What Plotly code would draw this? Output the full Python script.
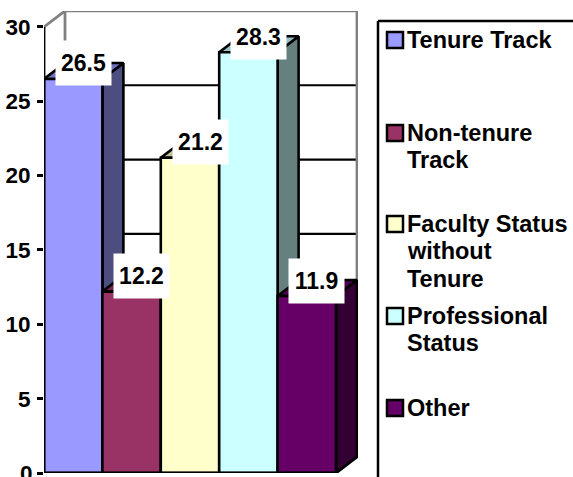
import plotly.graph_objects as go

categories = ["Tenure Track", "Non-tenure Track", "Faculty Status without Tenure", "Professional Status", "Other"]
values = [26.5, 12.2, 21.2, 28.3, 11.9]
value_labels = ["26.5", "12.2", "21.2", "28.3", "11.9"]
front_colors = ["#9999FF", "#993366", "#FFFFCC", "#CCFFFF", "#660066"]
side_colors = ["#4D4D80", "#4D1A33", "#808066", "#668080", "#330033"]
top_colors = ["#7373BF", "#732650", "#BFBF99", "#99BFBF", "#4D004D"]
legend_lines = [["Tenure Track"], ["Non-tenure", "Track"], ["Faculty Status", "without", "Tenure"],
                ["Professional", "Status"], ["Other"]]
legend_first_line_px = [40, 133, 224, 316, 408]
y_ticks = [0, 5, 10, 15, 20, 25, 30]

W, H = 573, 477
X0, Y0 = 44, 473          # pixel position of the front axis origin
CAT_PX, UNIT_PX = 58.4, 14.87
DX, DY = 21 / CAT_PX, 16 / UNIT_PX   # depth of the 3-D box in axis units
XMAX = 314 / CAT_PX
YMAX = 462 / UNIT_PX
FONT = "Liberation Sans, Arial, sans-serif"
LW = 2.6

fig = go.Figure()

def line(xs, ys, color, width, axes=("x", "y")):
    fig.add_trace(go.Scatter(x=xs, y=ys, mode="lines", line=dict(color=color, width=width),
                             xaxis=axes[0], yaxis=axes[1], showlegend=False,
                             hoverinfo="skip", cliponaxis=False))

def face(xs, ys, color):
    fig.add_trace(go.Scatter(x=xs, y=ys, mode="lines", fill="toself", fillcolor=color,
                             line=dict(color="black", width=LW), showlegend=False,
                             hoverinfo="skip", cliponaxis=False))

# back wall and gridlines
for t in y_ticks[1:-1]:
    line([DX, len(values) + DX], [t + DY, t + DY], "black", 2.2)
line([0, DX, len(values) + DX, len(values) + DX, len(values)],
     [30, 30 + DY, 30 + DY, DY, 0], "#808080", 2.8)
line([DX, DX], [30 + DY, DY], "#808080", 2.8)

# side and top faces, left to right
for i, v in enumerate(values):
    face([i + 1, i + 1 + DX, i + 1 + DX, i + 1, i + 1], [0, DY, v + DY, v, 0], side_colors[i])
    face([i, i + DX, i + 1 + DX, i + 1, i], [v, v + DY, v + DY, v, v], top_colors[i])

# front faces, on overlaying axes so they cover neighbouring side faces
for i, v in enumerate(values):
    fig.add_trace(go.Bar(x=[i + 0.5], y=[v], width=1, name=categories[i],
                         marker=dict(color=front_colors[i], line=dict(color="black", width=LW)),
                         xaxis="x2", yaxis="y2", showlegend=False, cliponaxis=False))

# front axis lines
line([0, 0], [0, 30], "black", 2.8, ("x2", "y2"))
line([0, len(values)], [0, 0], "black", 2.8, ("x2", "y2"))

# data labels on white boxes
annotations = []
for i, v in enumerate(values):
    annotations.append(dict(x=i + 0.5 + 10 / CAT_PX, y=v + 15.5 / UNIT_PX, xref="x", yref="y",
                            text=f"<b>{value_labels[i]}</b>", showarrow=False, bgcolor="white",
                            width=53, height=42, align="center", valign="middle",
                            font=dict(family=FONT, size=23, color="black")))

# the zero label overflows the page, so it is placed as an annotation and clipped by the page edge
annotations.append(dict(x=0, y=0, xref="x", yref="y", xanchor="right", yanchor="middle", xshift=-9,
                        text=f"<b>{y_ticks[0]}</b>", showarrow=False,
                        font=dict(family=FONT, size=22.5, color="black")))

# legend frame, swatches and text
shapes = [
    dict(type="line", xref="paper", yref="paper", x0=378 / W, x1=378 / W, y0=0, y1=1 - 21 / H,
         line=dict(color="black", width=2.5)),
    dict(type="line", xref="paper", yref="paper", x0=378 / W, x1=1, y0=1 - 21 / H, y1=1 - 21 / H,
         line=dict(color="black", width=2.5)),
]
for color, lines, py in zip(front_colors, legend_lines, legend_first_line_px):
    shapes.append(dict(type="rect", xref="paper", yref="paper", x0=387 / W, x1=403 / W,
                       y0=1 - (py + 8) / H, y1=1 - (py - 8) / H, fillcolor=color,
                       line=dict(color="black", width=2.5)))
    for k, txt in enumerate(lines):
        annotations.append(dict(x=408 / W, y=1 - (py + 27.3 * k) / H, xref="paper", yref="paper",
                                text=f"<b>{txt}</b>", showarrow=False, xanchor="left", yanchor="middle",
                                xshift=-1, font=dict(family=FONT, size=23.5, color="black"),
                                borderpad=0, borderwidth=0))

x_dom = [X0 / W, (X0 + 314) / W]
y_dom = [(H - Y0) / H, (H - Y0 + 462) / H]
hidden = dict(visible=False, fixedrange=True)
fig.update_layout(
    width=W, height=H, autosize=False, margin=dict(l=0, r=0, t=0, b=0),
    paper_bgcolor="white", plot_bgcolor="white", showlegend=False, barmode="overlay",
    xaxis=dict(domain=x_dom, range=[0, XMAX], **hidden),
    yaxis=dict(domain=y_dom, range=[0, YMAX], tickmode="array", tickvals=y_ticks,
               ticktext=["" if t == 0 else f"<b>{t}</b>" for t in y_ticks], ticks="outside", ticklen=6, tickwidth=2.5,
               tickcolor="black", showgrid=False, zeroline=False, showline=False,
               tickfont=dict(family=FONT, size=22.5, color="black"), ticklabelstandoff=2, fixedrange=True),
    xaxis2=dict(domain=x_dom, range=[0, XMAX], overlaying="x", **hidden),
    yaxis2=dict(domain=y_dom, range=[0, YMAX], overlaying="y", **hidden),
    shapes=shapes, annotations=annotations,
)
fig.write_html("out.html", config=dict(displayModeBar=False),
               post_script="document.body.style.margin='0';document.body.style.overflow='hidden';")
